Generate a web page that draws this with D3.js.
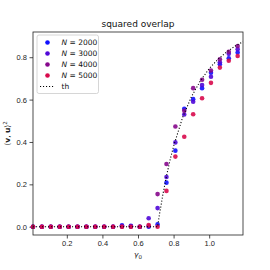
<!DOCTYPE html>
<meta charset="utf-8">
<style>
body { margin: 0; background: #fff; }
svg { font-family: "DejaVu Sans", sans-serif; }
.axis .domain { display: none; }
.axis text { font-size: 7.5px; fill: #222; }
.axis line { stroke: #222; stroke-width: 0.8; }
</style>
<svg width="270" height="270"></svg>
<script src="https://cdnjs.cloudflare.com/ajax/libs/d3/7.8.5/d3.min.js"></script>
<script>

// gamma_0 values of the simulations
var gamma = [0.01, 0.06, 0.11, 0.16, 0.21, 0.26, 0.31, 0.36, 0.41, 0.46,
             0.51, 0.56, 0.61, 0.66, 0.71, 0.76, 0.81, 0.86, 0.91, 0.96,
             1.01, 1.06, 1.11, 1.16];

var n2000 = [0, 0, 0, 0, 0, 0, 0, 0, 0, 0,
             0.007, 0.005, 0.0, 0.0, 0.011, 0.208, 0.359, 0.557, 0.602, 0.654,
             0.727, 0.767, 0.795, 0.822];
var n3000 = [0, 0, 0, 0, 0, 0, 0, 0, 0, 0,
             0.003, 0.002, 0.0, 0.040, 0.088, 0.235, 0.398, 0.530, 0.590, 0.669,
             0.708, 0.776, 0.816, 0.838];
var n4000 = [0, 0, 0, 0, 0, 0, 0, 0, 0, 0,
             0.0, 0.0, 0.0, 0.003, 0.154, 0.296, 0.473, 0.547, 0.654, 0.694,
             0.737, 0.790, 0.826, 0.853];
var n5000 = [0, 0, 0, 0, 0, 0, 0, 0, 0, 0,
             0.0, 0.0, 0.0, 0.008, 0.0, 0.169, 0.331, 0.425, 0.531, 0.606,
             0.679, 0.751, 0.783, 0.806];

var seriesNames = ["2000", "3000", "4000", "5000"];
var seriesColors = ["#1010ff", "#5008d8", "#86088c", "#d80a4c"];

// theory curve
var thX = [0.01, 0.71, 0.72, 0.74, 0.76, 0.78, 0.80, 0.85, 0.90, 0.95, 1.00, 1.05, 1.10, 1.15, 1.19];
var thY = [0.0, 0.0, 0.055, 0.153, 0.239, 0.314, 0.380, 0.514, 0.613, 0.688, 0.746, 0.791, 0.826, 0.855, 0.873];

var xTicks = [0.2, 0.4, 0.6, 0.8, 1.0];
var yTicks = [0.0, 0.2, 0.4, 0.6, 0.8];

var svg = d3.select("svg"),
    margin = {top: 32, right: 27, bottom: 35, left: 33},
    width = +svg.attr("width") - margin.left - margin.right,
    height = +svg.attr("height") - margin.top - margin.bottom,
    g = svg.append("g").attr("transform", "translate(" + margin.left + "," + margin.top + ")");

var x = d3.scaleLinear().domain([0.01, 1.19]).range([0, width]);
var y = d3.scaleLinear().domain([-0.039, 0.919]).range([height, 0]);

var series = [n2000, n3000, n4000, n5000].map(function(vals, i) {
  return {name: seriesNames[i], color: seriesColors[i],
          points: vals.map(function(v, j) { return {x: gamma[j], y: v}; })};
});

g.append("g")
    .attr("class", "axis")
    .attr("transform", "translate(0," + height + ")")
    .call(d3.axisBottom(x).tickValues(xTicks).tickFormat(d3.format(".1f")).tickSize(3.5).tickPadding(2.5));

g.append("g")
    .attr("class", "axis")
    .call(d3.axisLeft(y).tickValues(yTicks).tickFormat(d3.format(".1f")).tickSize(3.5).tickPadding(2.5));

// scatter points
g.append("g")
  .selectAll("g")
  .data(series)
  .enter().append("g")
    .attr("fill", function(d) { return d.color; })
  .selectAll("circle")
  .data(function(d) { return d.points; })
  .enter().append("circle")
    .attr("cx", function(d) { return x(d.x); })
    .attr("cy", function(d) { return y(d.y); })
    .attr("r", 2.3)
    .attr("fill-opacity", 0.9);

// theory line
var line = d3.line()
    .x(function(d, i) { return x(thX[i]); })
    .y(function(d) { return y(d); });

g.append("path")
    .datum(thY)
    .attr("d", line)
    .attr("fill", "none")
    .attr("stroke", "#000")
    .attr("stroke-width", 1.1)
    .attr("stroke-dasharray", "1.1,1.9");

// frame
g.append("rect")
    .attr("width", width)
    .attr("height", height)
    .attr("fill", "none")
    .attr("stroke", "#222")
    .attr("stroke-width", 0.8);

// title and labels
svg.append("text")
    .attr("x", margin.left + width / 2)
    .attr("y", 27)
    .attr("text-anchor", "middle")
    .attr("font-size", 9)
    .attr("fill", "#111")
    .text("squared overlap");

var xl = svg.append("text")
    .attr("x", margin.left + width / 2)
    .attr("y", 257)
    .attr("text-anchor", "middle")
    .attr("font-size", 7.5)
    .attr("fill", "#222");
xl.append("tspan").attr("font-style", "italic").text("γ");
xl.append("tspan").attr("font-size", 5.5).attr("dy", 1.8).text("0");

var yl = svg.append("text")
    .attr("transform", "translate(10," + (margin.top + height / 2) + ") rotate(-90)")
    .attr("text-anchor", "middle")
    .attr("font-size", 7.5)
    .attr("fill", "#222");
yl.append("tspan").text("⟨");
yl.append("tspan").attr("font-weight", "bold").text("v");
yl.append("tspan").text(", ");
yl.append("tspan").attr("font-weight", "bold").text("u");
yl.append("tspan").text("⟩");
yl.append("tspan").attr("font-size", 5.5).attr("dy", -3).text("2");

// legend
var legend = svg.append("g").attr("transform", "translate(37,35)");

legend.append("rect")
    .attr("width", 61.5)
    .attr("height", 58.5)
    .attr("rx", 2)
    .attr("fill", "#fff")
    .attr("fill-opacity", 0.85)
    .attr("stroke", "#ccc")
    .attr("stroke-width", 0.8);

var items = legend.selectAll("g.item")
    .data(series)
    .enter().append("g")
      .attr("class", "item")
      .attr("transform", function(d, i) { return "translate(0," + (7.5 + i * 11) + ")"; });

items.append("circle")
    .attr("cx", 10.5)
    .attr("r", 2.3)
    .attr("fill", function(d) { return d.color; });

var lt = items.append("text")
    .attr("x", 24.5)
    .attr("dy", "0.35em")
    .attr("font-size", 7.5)
    .attr("fill", "#111");
lt.append("tspan").attr("font-style", "italic").text("N");
lt.append("tspan").text(function(d) { return " = " + d.name; });

var thItem = legend.append("g").attr("transform", "translate(0," + (7.5 + 4 * 11) + ")");
thItem.append("line")
    .attr("x1", 3).attr("x2", 17)
    .attr("stroke", "#000")
    .attr("stroke-width", 1.1)
    .attr("stroke-dasharray", "1.1,1.9");
thItem.append("text")
    .attr("x", 24.5)
    .attr("dy", "0.35em")
    .attr("font-size", 7.5)
    .attr("fill", "#111")
    .text("th");

</script>
